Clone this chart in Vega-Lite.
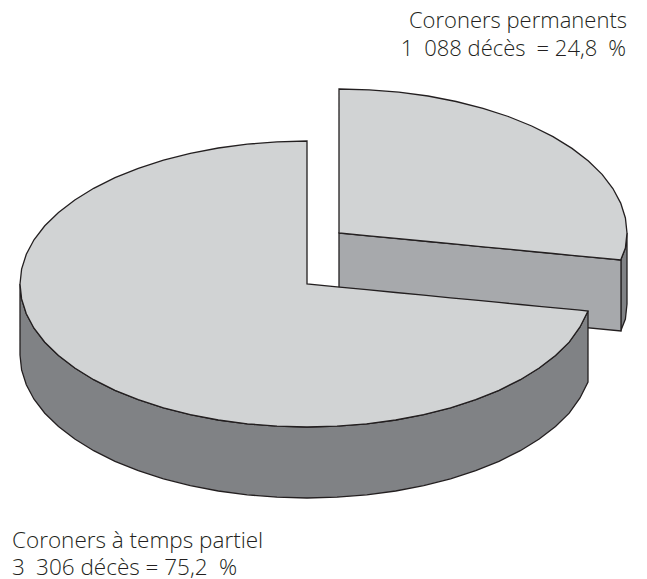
{"$schema":"https://vega.github.io/schema/vega-lite/v6.json","width":647,"height":579,"padding":0,"autosize":{"type":"none"},"background":"white","config":{"view":{"stroke":null}},
"datasets":{
"wallSmallOuter":[{"x":620.7,"y":260,"y2":331},{"x":625.4,"y":248,"y2":319},{"x":627,"y":233,"y2":304}],
"wallSmallInner":[{"x":339,"y":233,"y2":304},{"x":621,"y":260,"y2":331}],
"topSmall":[{"x":339,"y":89,"y2":233},{"x":369.1,"y":89.8,"y2":235.9},{"x":398.9,"y":92.2,"y2":238.7},{"x":428,"y":96,"y2":241.5},{"x":456.1,"y":101.5,"y2":244.2},{"x":483,"y":108.3,"y2":246.8},{"x":508.3,"y":116.5,"y2":249.2},{"x":531.7,"y":126,"y2":251.5},{"x":553,"y":136.6,"y2":253.5},{"x":572,"y":148.4,"y2":255.3},{"x":588.4,"y":161,"y2":256.9},{"x":602.1,"y":174.4,"y2":258.2},{"x":612.9,"y":188.5,"y2":259.2},{"x":620.7,"y":203.1,"y2":260},{"x":625.4,"y":218,"y2":248},{"x":627,"y":233,"y2":233}],
"wallBig":[{"x":20,"y":284,"y2":355},{"x":21.6,"y":298.9,"y2":369.9},{"x":26.3,"y":313.7,"y2":384.7},{"x":34,"y":328.2,"y2":399.2},{"x":44.8,"y":342.2,"y2":413.2},{"x":58.5,"y":355.5,"y2":426.5},{"x":74.8,"y":368,"y2":439},{"x":93.7,"y":379.7,"y2":450.7},{"x":115,"y":390.3,"y2":461.3},{"x":138.3,"y":399.7,"y2":470.7},{"x":163.5,"y":407.8,"y2":478.8},{"x":190.3,"y":414.6,"y2":485.6},{"x":218.3,"y":420,"y2":491},{"x":247.3,"y":423.8,"y2":494.8},{"x":277,"y":426.2,"y2":497.2},{"x":307,"y":427,"y2":498},{"x":337,"y":426.2,"y2":497.2},{"x":366.7,"y":423.8,"y2":494.8},{"x":395.7,"y":420,"y2":491},{"x":423.7,"y":414.6,"y2":485.6},{"x":450.5,"y":407.8,"y2":478.8},{"x":475.7,"y":399.7,"y2":470.7},{"x":499,"y":390.3,"y2":461.3},{"x":520.3,"y":379.7,"y2":450.7},{"x":539.2,"y":368,"y2":439},{"x":555.5,"y":355.5,"y2":426.5},{"x":569.2,"y":342.2,"y2":413.2},{"x":580,"y":327,"y2":398},{"x":588,"y":311,"y2":382}],
"topBig":[{"x":20,"y":284,"y2":284},{"x":21.6,"y":269.1,"y2":298.9},{"x":26.3,"y":254.3,"y2":313.7},{"x":34,"y":239.8,"y2":328.2},{"x":44.8,"y":225.8,"y2":342.2},{"x":58.5,"y":212.5,"y2":355.5},{"x":74.8,"y":200,"y2":368},{"x":93.7,"y":188.3,"y2":379.7},{"x":115,"y":177.7,"y2":390.3},{"x":138.3,"y":168.3,"y2":399.7},{"x":163.5,"y":160.2,"y2":407.8},{"x":190.3,"y":153.4,"y2":414.6},{"x":218.3,"y":148,"y2":420},{"x":247.3,"y":144.2,"y2":423.8},{"x":277,"y":141.8,"y2":426.2},{"x":307,"y":141,"y2":427},{"x":307.01,"y":284,"y2":427},{"x":337,"y":286.9,"y2":426.2},{"x":366.7,"y":289.7,"y2":423.8},{"x":395.7,"y":292.5,"y2":420},{"x":423.7,"y":295.2,"y2":414.6},{"x":450.5,"y":297.8,"y2":407.8},{"x":475.7,"y":300.2,"y2":399.7},{"x":499,"y":302.4,"y2":390.3},{"x":520.3,"y":304.5,"y2":379.7},{"x":539.2,"y":306.3,"y2":368},{"x":555.5,"y":307.9,"y2":355.5},{"x":569.2,"y":309.2,"y2":342.2},{"x":580,"y":310.2,"y2":327},{"x":588,"y":311,"y2":311}],
"labelsRight":[{"x":627,"y":28,"t":"Coroners permanents"},{"x":626,"y":56,"t":"1\u2002088 décès\u2002= 24,8\u2002%"}],
"labelsLeft":[{"x":12,"y":548,"t":"Coroners à temps partiel"},{"x":12,"y":575,"t":"3\u2002306 décès = 75,2\u2002%"}]
},
"encoding":{"x":{"field":"x","type":"quantitative","scale":{"domain":[0,647],"nice":false,"zero":false},"axis":null},"y":{"field":"y","type":"quantitative","scale":{"domain":[579,0],"nice":false,"zero":false},"axis":null}},
"layer":[
{"data":{"name":"wallSmallOuter"},"mark":{"type":"area","orient":"vertical","fill":"#808285","stroke":"#231f20","strokeWidth":1.3},"encoding":{"y2":{"field":"y2"}}},
{"data":{"name":"wallSmallInner"},"mark":{"type":"area","orient":"vertical","fill":"#a7a9ac","stroke":"#231f20","strokeWidth":1.3},"encoding":{"y2":{"field":"y2"}}},
{"data":{"name":"topSmall"},"mark":{"type":"area","orient":"vertical","fill":"#d1d3d4","stroke":"#231f20","strokeWidth":1.3},"encoding":{"y2":{"field":"y2"}}},
{"data":{"name":"wallBig"},"mark":{"type":"area","orient":"vertical","fill":"#808285","stroke":"#231f20","strokeWidth":1.3},"encoding":{"y2":{"field":"y2"}}},
{"data":{"name":"topBig"},"mark":{"type":"area","orient":"vertical","fill":"#d1d3d4","stroke":"#231f20","strokeWidth":1.3},"encoding":{"y2":{"field":"y2"}}},
{"data":{"name":"labelsRight"},"mark":{"type":"text","font":"Open Sans","fontSize":22,"fontWeight":300,"align":"right","baseline":"alphabetic","color":"#231f20"},"encoding":{"text":{"field":"t"}}},
{"data":{"name":"labelsLeft"},"mark":{"type":"text","font":"Open Sans","fontSize":22.5,"fontWeight":300,"align":"left","baseline":"alphabetic","color":"#231f20"},"encoding":{"text":{"field":"t"}}}
]}
